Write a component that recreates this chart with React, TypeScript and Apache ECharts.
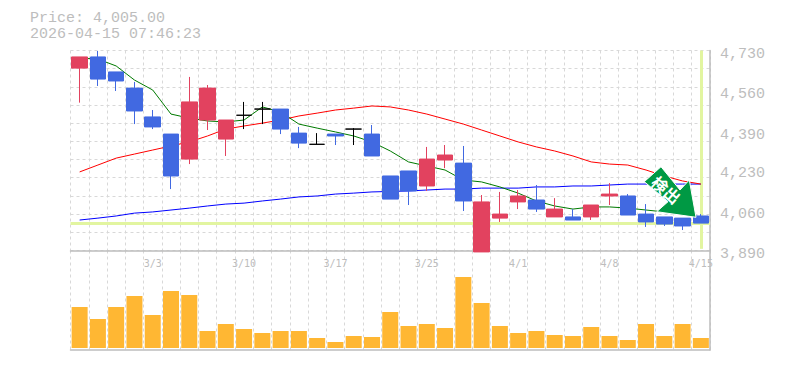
import React, { useEffect, useRef } from "react";
import * as echarts from "echarts";

const priceText = "Price: 4,005.00";
const timeText = "2026-04-15 07:46:23";
const markerText = "検出";
const lastPrice = 4005;

const dates = ["2/25","2/26","2/27","3/2","3/3","3/4","3/5","3/6","3/9","3/10","3/11","3/12","3/13","3/16","3/17","3/18","3/19","3/23","3/24","3/25","3/26","3/27","3/30","3/31","4/1","4/2","4/3","4/6","4/7","4/8","4/9","4/10","4/13","4/14","4/15"];

// open, close, low, high
const candles: number[][] = [
  [4656,4703,4511,4703],[4703,4610,4581,4728],[4640,4602,4560,4640],[4572,4476,4421,4598],[4451,4409,4400,4480],
  [4379,4203,4148,4379],[4274,4514,4253,4619],[4438,4572,4396,4585],[4358,4438,4287,4438],[4458,4458,4400,4514],
  [4484,4484,4421,4514],[4484,4400,4379,4484],[4383,4341,4320,4409],[4336,4336,4336,4383],[4379,4371,4333,4379],
  [4400,4400,4333,4404],[4379,4287,4287,4417],[4203,4106,4106,4203],[4224,4140,4081,4224],[4161,4274,4140,4325],
  [4270,4291,4236,4333],[4257,4098,4056,4329],[3884,4094,3884,4123],[4026,4043,4010,4136],[4094,4119,4064,4144],
  [4102,4064,4052,4165],[4031,4064,4031,4110],[4031,4018,4018,4064],[4031,4081,4018,4081],[4119,4127,4081,4173],
  [4119,4039,4039,4127],[4043,4010,3989,4085],[4031,4001,3993,4031],[4026,3993,3976,4026],[4035,4005,4005,4043],
];

const maShort = [4698,4694,4665,4606,4564,4463,4446,4434,4430,4438,4493,4472,4421,4404,4388,4371,4346,4308,4262,4245,4228,4186,4178,4157,4131,4098,4077,4064,4073,4073,4068,4060,4052,4043,4031];
const maMid = [4220,4249,4278,4295,4312,4329,4346,4371,4400,4413,4425,4438,4455,4467,4480,4488,4497,4493,4480,4463,4442,4421,4396,4371,4346,4325,4308,4287,4262,4253,4249,4228,4203,4182,4169];
const maLong = [4018,4026,4035,4047,4052,4060,4068,4077,4085,4089,4098,4106,4115,4119,4127,4131,4136,4138,4140,4144,4148,4148,4152,4152,4152,4157,4157,4161,4161,4165,4169,4169,4169,4169,4169];

const volumes = [41,29,41,52,33,57,53,17,24,19,15,17,17,10,6,12,11,36,22,24,20,71,45,22,15,17,13,12,21,12,8,24,12,24,10];

const priceLabels = [3890,4060,4230,4390,4560,4730];
const priceGrid = [3890,3966,4043,4119,4196,4272,4348,4425,4501,4577,4654,4730];

const GREY = "#bdbdbd";
const GRID = "#d8d8d8";
const MONO = "'Liberation Mono', monospace";

const arrowShape = [[644.3,181.7],[661,166.7],[680,190],[689.3,180],[696,217.3],[656.7,211.7],[668,201.7]];

export default function App() {
  const ref = useRef<HTMLDivElement>(null);
  useEffect(() => {
    const chart = echarts.init(ref.current!, null, { renderer: "svg" });
    const line = (data: number[], color: string, extra: any = {}) => ({
      type: "line", data, showSymbol: false, symbol: "none", z: 2, silent: true,
      lineStyle: { color, width: 1 }, ...extra,
    });
    chart.setOption({
      animation: false,
      backgroundColor: "#fff",
      grid: [
        { left: 70.5, width: 639.5, top: 50.5, height: 200 },
        { left: 70.5, width: 639.5, top: 250.5, height: 99.5 },
      ],
      xAxis: [
        {
          type: "category", gridIndex: 0, data: dates, boundaryGap: true,
          axisLine: { show: true, onZero: false, lineStyle: { color: GREY, width: 1.5 } },
          axisTick: { show: false },
          axisLabel: {
            interval: (i: number) => i % 5 === 4, color: GREY, fontFamily: "'DejaVu Sans Mono', monospace",
            fontSize: 10, margin: 8,
          },
          splitLine: { show: true, interval: 0, lineStyle: { color: GRID, type: [3, 3], width: 1 } },
        },
        {
          type: "category", gridIndex: 1, data: dates, boundaryGap: true,
          axisLine: { show: true, onZero: false, lineStyle: { color: GREY, width: 1.5 } },
          axisTick: { show: false }, axisLabel: { show: false },
          splitLine: { show: true, interval: 0, lineStyle: { color: GRID, type: [3, 3], width: 1 } },
        },
      ],
      yAxis: [
        {
          type: "value", gridIndex: 0, position: "right", min: 3890, max: 4730, scale: true,
          axisLine: { show: true, lineStyle: { color: GREY, width: 1.5 } },
          axisTick: { show: false, customValues: priceGrid },
          axisLabel: {
            customValues: priceLabels, color: GREY, fontFamily: MONO, fontSize: 15, margin: 10,
            verticalAlign: "top", lineHeight: 8,
            formatter: (v: number) => v.toLocaleString("en-US"),
          },
          splitLine: { show: true, lineStyle: { color: GRID, type: [3, 3], width: 1 } },
        },
        {
          type: "value", gridIndex: 1, position: "right", min: -2, max: 97.5,
          axisLine: { show: true, lineStyle: { color: GREY, width: 1.5 } },
          axisTick: { show: false }, axisLabel: { show: false }, splitLine: { show: false },
        },
      ],
      series: [
        line(maLong, "#0000ff", {
          markLine: {
            silent: true, symbol: "none", z: 1, label: { show: false }, animation: false,
            lineStyle: { color: "#e2f5a0", width: 3, type: "solid" },
            data: [
              { yAxis: lastPrice },
              [{ coord: [dates[34], 4730] }, { coord: [dates[34], 3897] }],
            ],
          },
        }),
        line(maMid, "#ff0000"),
        line(maShort, "#007a00"),
        {
          type: "candlestick", data: candles, barWidth: 16, clip: false, z: 3, silent: true,
          itemStyle: {
            color: "#e2425f", color0: "#4169e1", borderColor: "#e2425f", borderColor0: "#4169e1",
            borderColorDoji: "#000000", borderWidth: 1,
          },
        },
        {
          type: "bar", xAxisIndex: 1, yAxisIndex: 1, data: volumes, barWidth: 16, silent: true,
          itemStyle: { color: "#ffb733" },
        },
      ],
      graphic: [
        { type: "text", x: 30, y: 11, style: { text: priceText, fill: GREY, font: `15px ${MONO}` } },
        { type: "text", x: 30, y: 26.5, style: { text: timeText, fill: GREY, font: `15px ${MONO}` } },
        {
          type: "polygon", z: 20,
          shape: { points: arrowShape },
          style: { fill: "#009944", stroke: "#ffffff", lineWidth: 1 },
        },
        {
          type: "text", z: 21, x: 666.5, y: 189.5, rotation: -0.72,
          style: {
            text: markerText, fill: "#ffffff", align: "center", verticalAlign: "middle",
            font: "bold 16px 'Noto Sans CJK JP'",
          },
        },
      ],
    });
    return () => chart.dispose();
  }, []);
  return <div ref={ref} style={{ width: 785, height: 370, position: "absolute", left: 0, top: 0 }} />;
}
